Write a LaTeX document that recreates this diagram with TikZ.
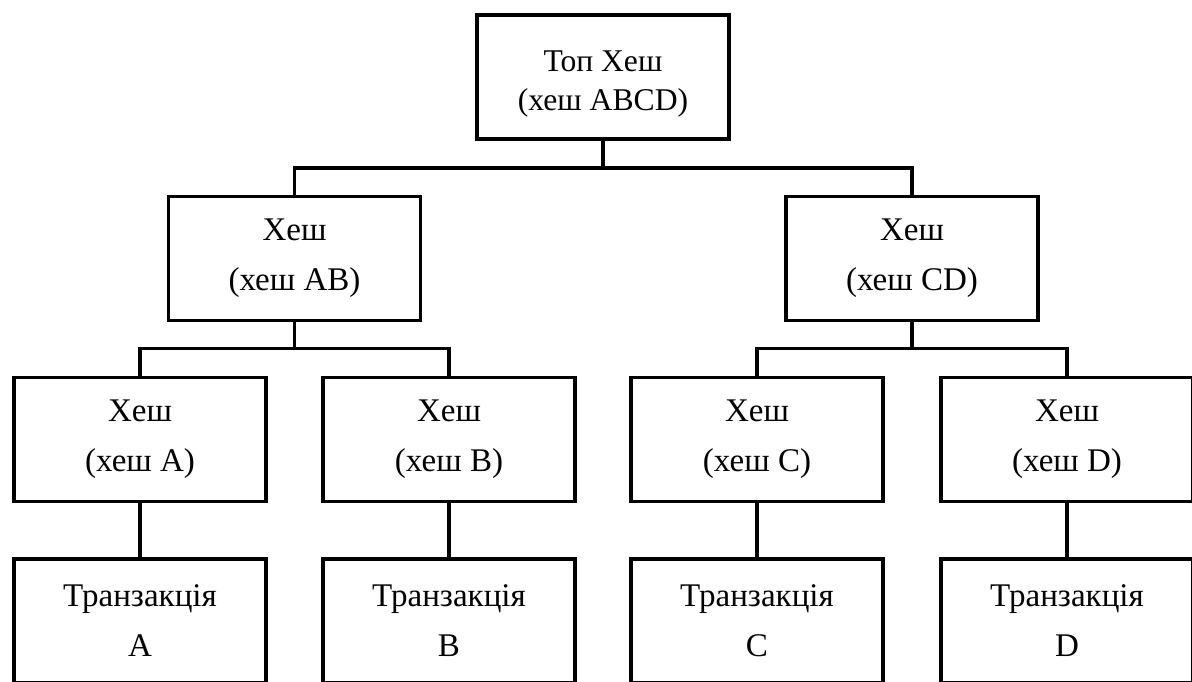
\documentclass[tikz,border=0pt]{standalone}
\usepackage{fontspec}
\setmainfont{Liberation Serif}

\begin{document}
\begin{tikzpicture}[x=0.025cm,y=-0.025cm,
    box/.style={draw,line width=2.5pt,minimum width=6.3cm,minimum height=3.1cm,inner sep=0pt,align=center,font=\fontsize{23.5}{35.5}\selectfont},
    link/.style={line width=2.5pt}]
    \useasboundingbox (0,0) rectangle (1192,682);
    \clip (0,0) rectangle (1192,682);
    \node[box,font=\fontsize{22.5}{27.5}\selectfont] (top) at (603,77) {\rule{0pt}{25pt}Топ Хеш\\(хеш ABCD)};
    \node[box] (hab) at (294.5,258.5) {Хеш\\(хеш AB)};
    \node[box] (hcd) at (912,258.5) {Хеш\\(хеш CD)};
    \node[box] (ha) at (140,439.5) {Хеш\\(хеш A)};
    \node[box] (hb) at (449,439.5) {Хеш\\(хеш B)};
    \node[box] (hc) at (757,439.5) {Хеш\\(хеш C)};
    \node[box] (hd) at (1067,439.5) {Хеш\\(хеш D)};
    \node[box] (ta) at (140,621) {Транзакція\\A};
    \node[box] (tb) at (449,621) {Транзакція\\B};
    \node[box] (tc) at (757,621) {Транзакція\\C};
    \node[box] (td) at (1067,621) {Транзакція\\D};
    \draw[link] (top.south) -- ++(0,27) -| (hab.north);
    \draw[link] (top.south) -- ++(0,27) -| (hcd.north);
    \draw[link] (hab.south) -- ++(0,26) -| (ha.north);
    \draw[link] (hab.south) -- ++(0,26) -| (hb.north);
    \draw[link] (hcd.south) -- ++(0,26) -| (hc.north);
    \draw[link] (hcd.south) -- ++(0,26) -| (hd.north);
    \draw[link] (ha.south) -- (ta.north);
    \draw[link] (hb.south) -- (tb.north);
    \draw[link] (hc.south) -- (tc.north);
    \draw[link] (hd.south) -- (td.north);
\end{tikzpicture}
\end{document}
